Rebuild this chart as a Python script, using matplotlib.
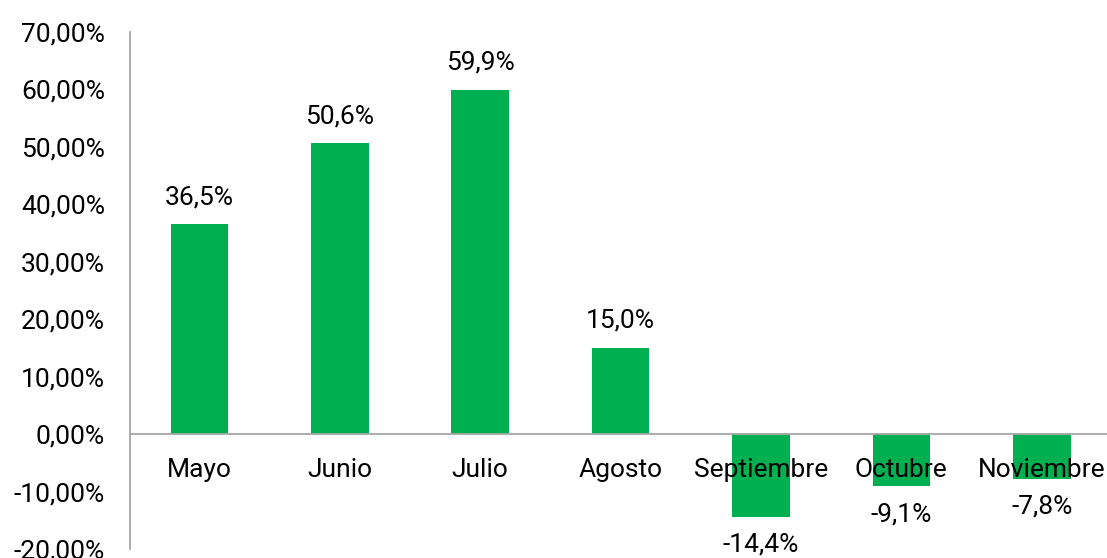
import numpy as np
import matplotlib.pyplot as plt
from matplotlib.ticker import FuncFormatter

plt.rcParams['font.family'] = ['Roboto', 'DejaVu Sans']

months = ["Mayo", "Junio", "Julio", "Agosto", "Septiembre", "Octubre", "Noviembre"]
values = [36.5, 50.6, 59.9, 15.0, -14.4, -9.1, -7.8]

bar_color = '#00B050'
axis_color = '#A6A6A6'

fig = plt.figure(figsize=(11.07, 5.58), dpi=100)
ax = fig.add_axes([130/1107, 9/558, 977/1107, 517/558])

x = np.arange(len(months))
bars = ax.bar(x, values, width=0.41, color=bar_color, zorder=1)

ax.set_ylim(-20, 70)
ax.set_xlim(-0.495, 6.465)
ax.set_yticks(np.arange(-20, 71, 10))
ax.yaxis.set_major_formatter(FuncFormatter(lambda v, p: ("%.2f%%" % v).replace(".", ",")))
ax.tick_params(axis='y', length=0, pad=18, labelsize=19)

ax.spines['bottom'].set_position(('data', 0))
ax.spines['bottom'].set_color(axis_color)
ax.spines['bottom'].set_linewidth(1.3)
ax.spines['left'].set_color(axis_color)
ax.spines['left'].set_linewidth(1.3)
ax.spines['top'].set_visible(False)
ax.spines['right'].set_visible(False)

ax.set_xticks(x)
ax.set_xticklabels(months)
ax.tick_params(axis='x', length=0, pad=17, labelsize=19)
for lbl in ax.get_xticklabels():
  lbl.set_zorder(3)

for xi, v in zip(x, values):
  label = ("%.1f%%" % v).replace(".", ",")
  if v >= 0:
    ax.annotate(label, (xi, v), xytext=(0, 19.5), textcoords='offset points',
                ha='center', va='center', fontsize=19)
  else:
    ax.annotate(label, (xi, v), xytext=(0, -20), textcoords='offset points',
                ha='center', va='center', fontsize=19, annotation_clip=False)

fig.savefig("out.png", dpi=100)
